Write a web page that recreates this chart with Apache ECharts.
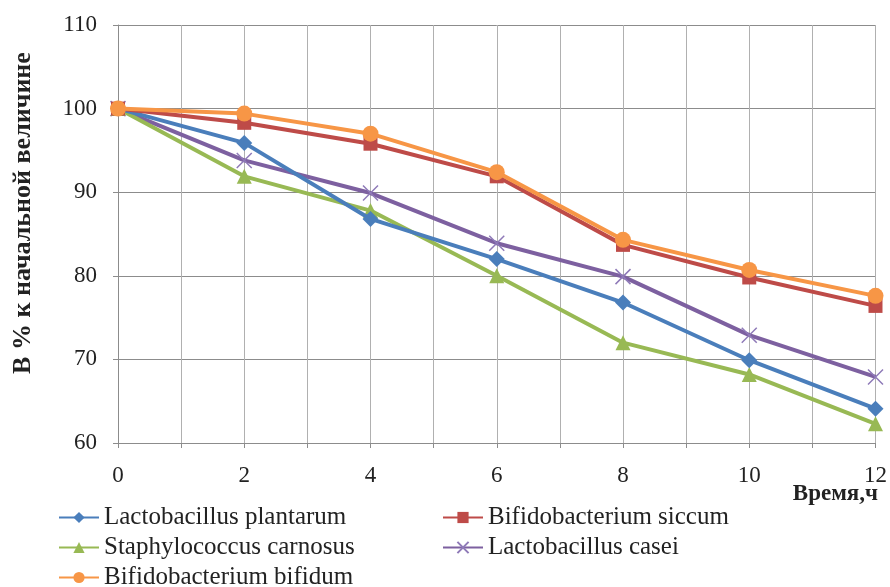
<!DOCTYPE html>
<html>
<head>
<meta charset="utf-8">
<script src="https://cdn.jsdelivr.net/npm/echarts@6/dist/echarts.min.js"></script>
<style>
  html, body { margin: 0; padding: 0; background: #fff; }
  #chart { width: 890px; height: 587px; }
</style>
</head>
<body>
<div id="chart"></div>
<script>
const hours = [0, 2, 4, 6, 8, 10, 12];

const plantarum = [100, 95.9, 86.8, 82.0, 76.8, 69.9, 64.1];
const siccum = [100, 98.3, 95.8, 91.9, 83.7, 79.8, 76.4];
const carnosus = [100, 91.9, 87.8, 80.0, 72.0, 68.2, 62.3];
const casei = [100, 93.8, 89.9, 83.9, 79.9, 72.9, 67.9];
const bifidum = [100, 99.4, 97.0, 92.4, 84.3, 80.7, 77.6];

const seriesNames = [
  'Lactobacillus plantarum',
  'Bifidobacterium siccum',
  'Staphylococcus carnosus',
  'Lactobacillus casei',
  'Bifidobacterium bifidum',
];

const yTitle = 'В % к начальной величине';
const xTitle = 'Время,ч';

const serif = '"Liberation Serif", "DejaVu Serif", serif';
const chart = echarts.init(document.getElementById('chart'));

const pair = vals => hours.map((h, i) => [h, vals[i]]);

const mkSeries = (name, vals, color, symbol, size, z) => ({
  name,
  type: 'line',
  data: pair(vals),
  symbol,
  symbolSize: size,
  lineStyle: { width: 4, color },
  itemStyle: symbol.startsWith('path://')
    ? { color: color, borderColor: '#8f7ab8', borderWidth: 1.5 }
    : { color },
  emphasis: { disabled: true },
  animation: false,
  z,
});

const legendBase = {
  orient: 'vertical',
  top: 505,
  height: 90,
  padding: 0,
  itemWidth: 40,
  itemHeight: 14,
  itemGap: 5,
  textStyle: { fontFamily: serif, fontSize: 25, lineHeight: 25, color: '#222' },
};

const option = {
  backgroundColor: '#fff',
  grid: { left: 118, right: 13, top: 25, bottom: 144 },
  xAxis: {
    type: 'value',
    min: 0,
    max: 12,
    interval: 1,
    axisLine: { lineStyle: { color: '#8c8c8c', width: 1 } },
    axisTick: { show: true, length: 5, lineStyle: { color: '#8c8c8c' } },
    axisLabel: {
      margin: 21,
      color: '#222',
      fontFamily: serif,
      fontSize: 23,
      formatter: v => (v % 2 === 0 ? String(v) : ''),
    },
    splitLine: { show: true, lineStyle: { color: '#b0b0b0', width: 1 } },
  },
  yAxis: {
    type: 'value',
    min: 60,
    max: 110,
    interval: 10,
    axisLine: { show: true, lineStyle: { color: '#8c8c8c', width: 1 } },
    axisTick: { show: true, length: 5, lineStyle: { color: '#8c8c8c' } },
    axisLabel: {
      margin: 21,
      color: '#222',
      fontFamily: serif,
      fontSize: 23,
    },
    splitLine: { show: true, lineStyle: { color: '#8c8c8c', width: 1 } },
  },
  legend: [
    Object.assign({}, legendBase, {
      data: [seriesNames[0], seriesNames[2], seriesNames[4]],
      left: 58,
    }),
    Object.assign({}, legendBase, {
      data: [seriesNames[1], seriesNames[3]],
      left: 442,
    }),
  ],
  graphic: [
    {
      type: 'text',
      x: 23,
      y: 213,
      rotation: Math.PI / 2,
      style: {
        text: yTitle,
        font: 'bold 26px ' + serif,
        fill: '#222',
        textAlign: 'center',
        textVerticalAlign: 'middle',
      },
    },
    {
      type: 'text',
      right: 12,
      top: 483,
      style: {
        text: xTitle,
        font: 'bold 23px ' + serif,
        fill: '#222',
      },
    },
  ],
  series: [
    mkSeries(seriesNames[3], casei, '#7D60A0', 'path://M0,0L10,10M10,0L0,10', 15, 2),
    mkSeries(seriesNames[2], carnosus, '#98B954', 'triangle', 15, 3),
    mkSeries(seriesNames[0], plantarum, '#4A7EBB', 'diamond', 16, 4),
    mkSeries(seriesNames[1], siccum, '#BE4B48', 'rect', 14, 5),
    mkSeries(seriesNames[4], bifidum, '#F79646', 'circle', 16, 6),
  ],
};

chart.setOption(option);
</script>
</body>
</html>
